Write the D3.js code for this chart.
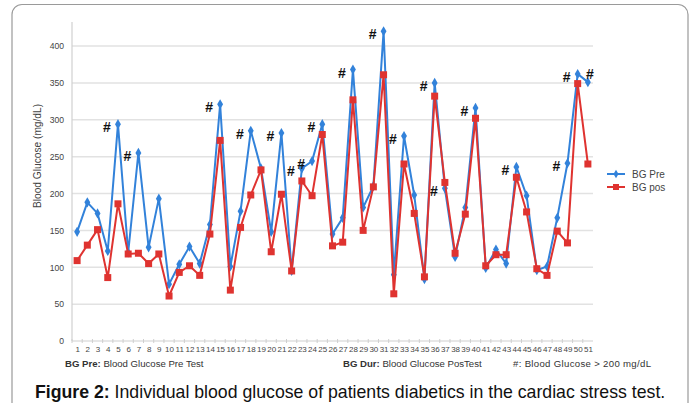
<!DOCTYPE html>
<html><head><meta charset="utf-8">
<script src="https://cdn.jsdelivr.net/npm/d3@7"></script>
<style>
html,body{margin:0;padding:0;background:#fff;}
svg{display:block;font-family:"Liberation Sans",Arial,sans-serif;}
</style></head>
<body>
<svg id="c" width="693" height="403"></svg>
<script>
const patients = d3.range(1, 52);
const bgPre = [148,188,173,122,294,120,255,127,193,77,
               104,128,105,158,321,101,176,285,234,148,
               282,95,234,244,294,145,167,368,181,210,
               420,90,278,198,84,350,207,114,181,316,
               99,124,105,236,197,96,101,167,241,362,351];
const bgPos = [109,130,151,86,186,118,119,105,118,61,
               93,102,89,145,272,69,154,198,232,121,
               199,95,217,197,280,129,134,327,150,209,
               361,64,240,173,87,332,215,119,172,302,
               102,117,117,222,175,98,89,149,133,349,240];
const hashPoints = [5,7,15,18,21,23,24,25,28,31,33,36,37,40,44,49,50,51];
const yTicks = [0,50,100,150,200,250,300,350,400];
const seriesNames = ["BG Pre", "BG pos"];

const svg = d3.select("#c");
const BLUE = "#3282da", RED = "#df3330";

// outer frame
svg.append("rect").attr("x",12).attr("y",4.5).attr("width",676).attr("height",420)
  .attr("rx",10).attr("fill","none").attr("stroke","#9a9a9a").attr("stroke-width",1.2);

const x = d3.scalePoint().domain(patients).range([72,593]).padding(0.5);
const xb = d3.scaleBand().domain(patients).range([72,593]);
const y = d3.scaleLinear().domain([0,400]).range([341,46]);

// gridlines
svg.append("g").selectAll("line").data(yTicks.filter(d=>d>0)).join("line")
  .attr("x1",72).attr("x2",593).attr("y1",d=>y(d)).attr("y2",d=>y(d))
  .attr("stroke","#e2e2e2").attr("stroke-width",1.5);

// y axis
const yAxis = svg.append("g").attr("transform","translate(72,0)")
  .call(d3.axisLeft(y).tickValues(yTicks).tickSize(0).tickPadding(8));
yAxis.select(".domain").remove();
yAxis.selectAll("text").attr("font-size",8.6).attr("fill","#444")
  .attr("font-family","Liberation Sans, Arial, sans-serif");
svg.append("line").attr("x1",72).attr("x2",72).attr("y1",22).attr("y2",341)
  .attr("stroke","#d0d0d0").attr("stroke-width",1.2);

// x axis
svg.append("line").attr("x1",72).attr("x2",593).attr("y1",341).attr("y2",341)
  .attr("stroke","#cfcfcf").attr("stroke-width",1.2);
svg.append("g").selectAll("line").data(patients).join("line")
  .attr("x1",d=>xb(d)).attr("x2",d=>xb(d)).attr("y1",339).attr("y2",343)
  .attr("stroke","#cfcfcf");
const xAxis = svg.append("g").attr("transform","translate(0,341)")
  .call(d3.axisBottom(x).tickSize(0).tickPadding(5));
xAxis.select(".domain").remove();
xAxis.selectAll("text").attr("font-size",8).attr("fill","#444")
  .attr("font-family","Liberation Sans, Arial, sans-serif");

// y label
svg.append("text").attr("transform","translate(41,156) rotate(-90)")
  .attr("text-anchor","middle").attr("font-size",10.2).attr("fill","#444")
  .text("Blood Glucose (mg/dL)");

// lines
const line = arr => d3.line().x((d,i)=>x(patients[i])).y(d=>y(d))(arr);
svg.append("path").attr("d",line(bgPre)).attr("fill","none")
  .attr("stroke",BLUE).attr("stroke-width",2);
svg.append("g").selectAll("path").data(bgPre).join("path")
  .attr("transform",(d,i)=>`translate(${x(patients[i])},${y(d)})`)
  .attr("d",d3.symbol().type(d3.symbolDiamond).size(30)).attr("fill",BLUE);
svg.append("path").attr("d",line(bgPos)).attr("fill","none")
  .attr("stroke",RED).attr("stroke-width",2);
svg.append("g").selectAll("rect").data(bgPos).join("rect")
  .attr("x",(d,i)=>x(patients[i])-3.5).attr("y",d=>y(d)-3.5)
  .attr("width",7).attr("height",7).attr("fill",RED);

// hash annotations
svg.append("g").selectAll("text").data(hashPoints).join("text")
  .attr("x",p=> p===patients[patients.length-1] ? x(p)+2 : x(p)-11)
  .attr("y",p=> p===patients[patients.length-1] ? y(bgPre[p-1])-3 : y(bgPre[p-1])+8)
  .attr("text-anchor","middle").attr("font-size",14).attr("font-weight","bold")
  .attr("fill","#111").text("#");

// legend
const lg = svg.append("g");
seriesNames.forEach((n,i)=>{
  const ly = 174 + i*13, col = i===0?BLUE:RED;
  lg.append("line").attr("x1",607).attr("x2",625).attr("y1",ly).attr("y2",ly)
    .attr("stroke",col).attr("stroke-width",2);
  if(i===0) lg.append("path").attr("transform",`translate(616,${ly})`)
    .attr("d",d3.symbol().type(d3.symbolDiamond).size(22)).attr("fill",col);
  else lg.append("rect").attr("x",613).attr("y",ly-3).attr("width",6).attr("height",6).attr("fill",col);
  lg.append("text").attr("x",632).attr("y",ly+3.5).attr("font-size",10).attr("fill","#444").text(n);
});

// footnotes
const fn = svg.append("g").attr("font-size",9.6).attr("fill","#333");
const t1 = fn.append("text").attr("x",65).attr("y",367);
t1.append("tspan").attr("font-weight","bold").text("BG Pre:");
t1.append("tspan").text(" Blood Glucose Pre Test");
const t2 = fn.append("text").attr("x",343).attr("y",367);
t2.append("tspan").attr("font-weight","bold").text("BG Dur:");
t2.append("tspan").text(" Blood Glucose PosTest");
fn.append("text").attr("x",513).attr("y",367).attr("textLength",138).attr("lengthAdjust","spacing")
  .text("#: Blood Glucose > 200 mg/dL");

// caption
const cap = svg.append("text").attr("x",35).attr("y",398).attr("font-size",17.7).attr("fill","#111");
cap.append("tspan").attr("font-weight","bold").text("Figure 2:");
cap.append("tspan").text(" Individual blood glucose of patients diabetics in the cardiac stress test.");
</script>
</body></html>
